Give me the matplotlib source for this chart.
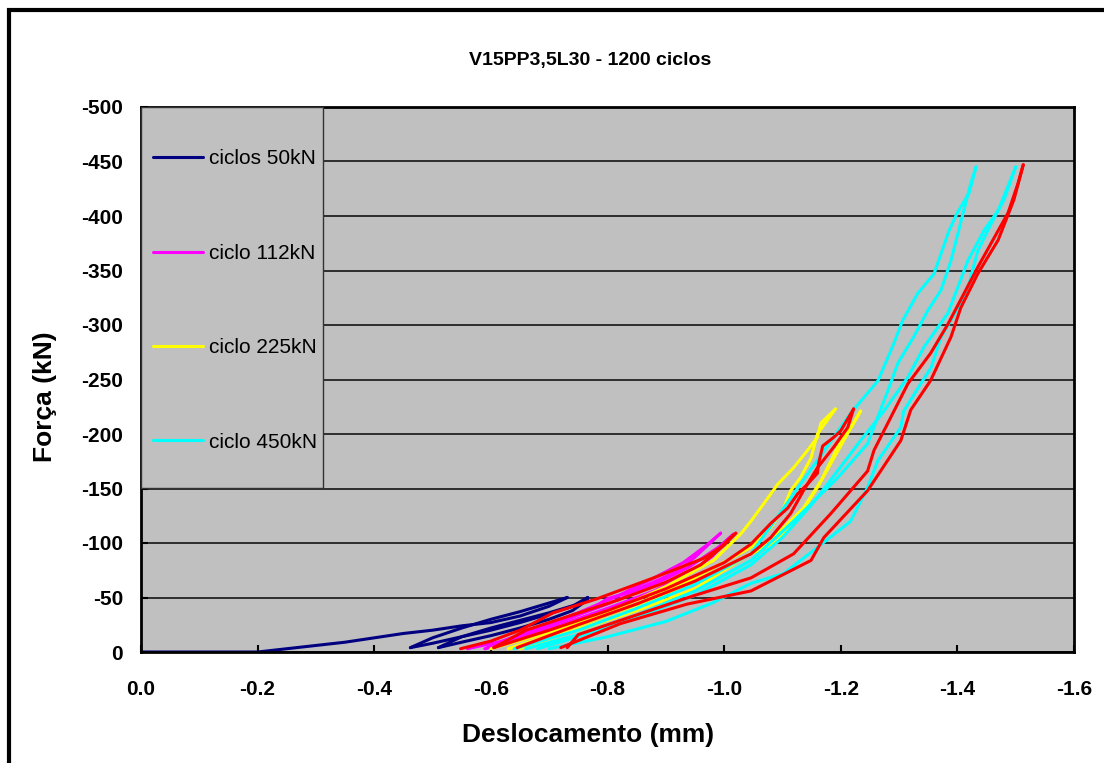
import matplotlib
matplotlib.use('Agg')
import matplotlib.pyplot as plt
from matplotlib.patches import Rectangle

plt.rcParams['font.family'] = ['Liberation Sans', 'DejaVu Sans']

# Data (displacement mm, force kN); each series is a list of branches
navy_x = [[0.0, -0.1, -0.2, -0.25, -0.3, -0.35, -0.4, -0.45, -0.5, -0.55, -0.6, -0.65, -0.7, -0.731],
          [-0.731, -0.70, -0.65, -0.60, -0.55, -0.50, -0.462],
          [-0.462, -0.50, -0.55, -0.60, -0.65, -0.70, -0.74, -0.766],
          [-0.766, -0.75, -0.70, -0.65, -0.60, -0.55, -0.51],
          [-0.51, -0.55, -0.60, -0.65, -0.70, -0.74, -0.766]]
navy_y = [[0, 0, 0, -3, -6, -9, -13, -17, -20, -24, -27, -33, -42, -50],
          [-50, -45, -37, -30, -22, -13, -4],
          [-4, -8, -14, -20, -27, -35, -42, -50],
          [-50, -44, -36, -29, -22, -14, -4],
          [-4, -9, -15, -22, -30, -38, -48]]

magenta_x = [[-0.56, -0.62, -0.68, -0.74, -0.78, -0.80, -0.845, -0.92, -0.95, -0.994],
             [-0.994, -0.97, -0.93, -0.88, -0.82, -0.75, -0.68, -0.62, -0.59],
             [-0.59, -0.65, -0.72, -0.80, -0.88, -0.94, -0.98, -1.0, -1.016],
             [-1.016, -0.99, -0.94, -0.88, -0.80, -0.72, -0.65, -0.60]]
magenta_y = [[-3, -10, -20, -32, -42, -49, -56, -74, -87, -109],
             [-109, -98, -82, -68, -52, -36, -22, -10, -3],
             [-3, -12, -25, -40, -56, -72, -88, -100, -108],
             [-108, -96, -78, -62, -44, -28, -14, -4]]

yellow_x = [[-0.60, -0.70, -0.80, -0.90, -0.982, -1.028, -1.046, -1.08, -1.092, -1.119, -1.143, -1.16, -1.166, -1.191],
            [-1.191, -1.16, -1.149, -1.131, -1.114, -1.102, -1.08, -1.046, -0.95, -0.85, -0.75, -0.63],
            [-0.63, -0.75, -0.85, -0.95, -1.062, -1.102, -1.136, -1.166, -1.195, -1.217, -1.234],
            [-1.234, -1.205, -1.183, -1.16, -1.131, -1.092, -1.0, -0.9, -0.8, -0.7, -0.65]]
yellow_y = [[-3, -18, -36, -60, -84, -108, -120, -145, -154, -169, -185, -197, -210, -223],
            [-223, -200, -178, -160, -148, -132, -114, -96, -68, -44, -24, -3],
            [-3, -20, -38, -58, -96, -114, -132, -157, -188, -206, -221],
            [-221, -194, -173, -151, -127, -102, -78, -52, -30, -12, -3]]

cyan_x = [[-0.64, -0.75, -0.85, -0.95, -1.046, -1.102, -1.16, -1.217, -1.264, -1.291, -1.306, -1.332, -1.36, -1.386, -1.40, -1.42, -1.432],
          [-1.432, -1.423, -1.411, -1.389, -1.372, -1.349, -1.325, -1.298, -1.281, -1.246, -1.195, -1.119, -1.046, -0.95, -0.85, -0.75, -0.66],
          [-0.70, -0.80, -0.90, -0.98, -1.046, -1.102, -1.16, -1.217, -1.246, -1.264, -1.303, -1.308, -1.337, -1.355, -1.372, -1.406, -1.42, -1.435, -1.458, -1.48, -1.5],
          [-1.5, -1.47, -1.446, -1.418, -1.384, -1.343, -1.315, -1.274, -1.234, -1.20, -1.15, -1.10, -1.046, -0.95, -0.85, -0.75, -0.68]]
cyan_y = [[-3, -20, -40, -62, -90, -132, -176, -219, -249, -283, -304, -329, -347, -387, -403, -421, -445],
          [-445, -430, -405, -359, -332, -313, -289, -265, -240, -191, -160, -120, -84, -56, -34, -16, -3],
          [-3, -14, -28, -45, -63, -72, -96, -120, -151, -176, -206, -221, -246, -261, -289, -320, -338, -368, -393, -415, -445],
          [-445, -405, -387, -359, -311, -280, -252, -221, -194, -170, -135, -105, -80, -52, -32, -14, -3]]

red_x = [[-0.548, -0.60, -0.65, -0.707, -0.783, -0.879, -0.965, -0.994, -1.015, -1.02],
         [-1.02, -1.0, -0.96, -0.90, -0.82, -0.74, -0.66, -0.605],
         [-0.605, -0.70, -0.80, -0.90, -1.0, -1.046, -1.08, -1.109, -1.126, -1.143, -1.16, -1.162, -1.169, -1.188, -1.20, -1.222],
         [-1.222, -1.212, -1.188, -1.16, -1.136, -1.114, -1.08, -1.046, -0.95, -0.85, -0.75, -0.645],
         [-0.72, -0.822, -0.937, -1.046, -1.149, -1.171, -1.246, -1.303, -1.32, -1.354, -1.389, -1.406, -1.435, -1.47, -1.497, -1.513],
         [-1.513, -1.504, -1.487, -1.435, -1.384, -1.354, -1.315, -1.257, -1.246, -1.183, -1.119, -1.046, -0.95, -0.85, -0.75, -0.731]]
red_y = [[-3, -10, -20, -36, -49, -68, -86, -96, -107, -109],
         [-109, -98, -80, -64, -48, -34, -20, -4],
         [-4, -20, -38, -58, -82, -99, -118, -132, -145, -154, -164, -173, -189, -197, -203, -223],
         [-223, -206, -188, -169, -148, -127, -105, -90, -65, -44, -25, -4],
         [-4, -26, -44, -56, -84, -105, -148, -194, -222, -249, -289, -316, -347, -378, -415, -447],
         [-447, -430, -403, -353, -301, -274, -246, -185, -166, -127, -90, -68, -52, -34, -16, -4]]

series = [(navy_x, navy_y, '#000080', 'ciclos 50kN'),
          (magenta_x, magenta_y, '#FF00FF', 'ciclo 112kN'),
          (yellow_x, yellow_y, '#FFFF00', 'ciclo 225kN'),
          (cyan_x, cyan_y, '#00FFFF', 'ciclo 450kN'),
          (red_x, red_y, '#FF0000', None)]

x_ticks = [0.0, -0.2, -0.4, -0.6, -0.8, -1.0, -1.2, -1.4, -1.6]
y_ticks = [0, -50, -100, -150, -200, -250, -300, -350, -400, -450, -500]

fig = plt.figure(figsize=(11.04, 7.63), dpi=100)
ax = fig.add_axes([141 / 1104, 1 - 652 / 763, 933 / 1104, 545 / 763])
ax.set_facecolor('#C0C0C0')

handles = []
for xs, ys, color, label in series:
    for i, (bx, by) in enumerate(zip(xs, ys)):
        line, = ax.plot(bx, by, color=color, lw=2.2, solid_capstyle='round',
                        solid_joinstyle='round', zorder=2)
        if i == 0 and label:
            handles.append((line, label))

ax.set_xlim(0, -1.6)
ax.set_ylim(0, -500)
ax.set_xticks(x_ticks, ['%.1f' % v for v in x_ticks], fontweight='bold')
ax.set_yticks(y_ticks, [str(v) for v in y_ticks], fontweight='bold')
ax.tick_params(axis='both', direction='in', length=5, width=1.5, labelsize=15)
ax.tick_params(axis='x', pad=20)
ax.tick_params(axis='y', pad=13)
ax.yaxis.grid(True, color='#222222', lw=1.3)
ax.set_axisbelow(True)
for sp in ax.spines.values():
    sp.set_linewidth(2)

# legend box drawn as its own patch
leg_bottom = (652 - 488) / 545
ax.add_patch(Rectangle((0, leg_bottom), 182 / 933, 1 - leg_bottom, transform=ax.transAxes,
                       fc='#C0C0C0', ec='#333333', lw=1, zorder=3))
leg = ax.legend([h for h, _ in handles], [l for _, l in handles], loc='center left',
                bbox_to_anchor=(12 / 933, (652 - 300.5) / 545), frameon=False,
                fontsize=15, handlelength=2.4, handletextpad=0.3, labelspacing=3.62,
                borderpad=0, borderaxespad=0)
leg.set_zorder(4)
for lh in leg.get_lines():
    lh.set_linewidth(2.2)

fig.text(590 / 1104, 1 - 60 / 763, 'V15PP3,5L30 - 1200 ciclos', ha='center', va='center',
         fontsize=14, fontweight='bold')
fig.text(588 / 1104, 1 - 735 / 763, 'Deslocamento (mm)', ha='center', va='center',
         fontsize=19, fontweight='bold')
fig.text(45 / 1104, 1 - 397 / 763, 'Força (kN)', ha='center', va='center', rotation=90,
         fontsize=19, fontweight='bold')

# outer chart frame (cut off at right and bottom in the reference)
fig.patches.append(Rectangle((9 / 1104, -0.5), 2, 1.5 - 10 / 763, transform=fig.transFigure,
                             fill=False, ec='black', lw=3))

fig.savefig('out.png', dpi=100)
